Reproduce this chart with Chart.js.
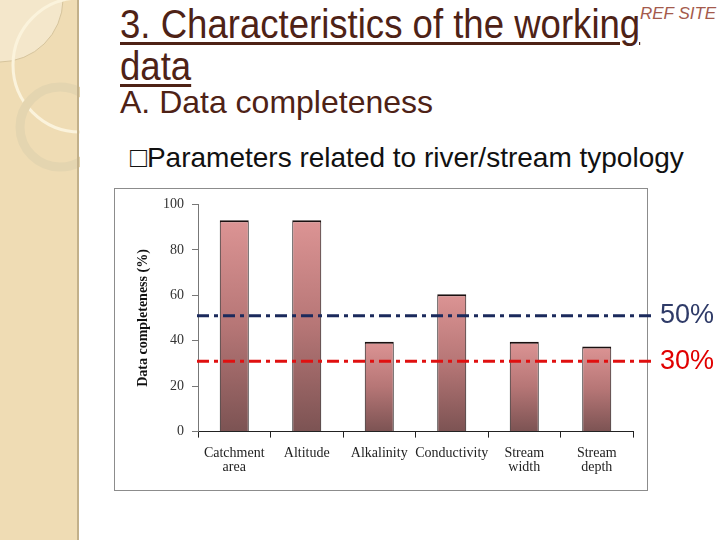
<!DOCTYPE html>
<html>
<head>
<meta charset="utf-8">
<script src="https://cdn.jsdelivr.net/npm/chart.js@4.4.1/dist/chart.umd.min.js"></script>
<style>
  body { margin: 0; background: #fff; }
  #slide { position: relative; width: 720px; height: 540px; overflow: hidden; background: #fff; font-family: "Liberation Sans", Arial, sans-serif; }
  #side { position: absolute; left: 0; top: 0; }
  .t { position: absolute; white-space: nowrap; line-height: normal; }
  .head { font-size: 40px; color: #4e2216; text-decoration: underline; text-decoration-thickness: 3px; text-underline-offset: 4px; transform: scaleX(0.914); transform-origin: left top; }
  #title1 { left: 120px; top: 2px; }
  #title2 { left: 120px; top: 44px; }
  #sub { left: 120px; top: 84px; font-size: 32px; color: #4e2216; }
  #ref { left: 640px; top: 4px; font-size: 17px; font-style: italic; color: #a45a4c; }
  #bullet { left: 130px; top: 142px; font-size: 28px; color: #111; }
  #box { position: absolute; left: 114px; top: 188px; width: 532px; height: 301px; border: 1px solid #8c8c8c; }
  #wrap { position: absolute; left: 114px; top: 188px; width: 606px; height: 307px; }
</style>
</head>
<body>
<div id="slide">
  <svg id="side" width="80" height="540">
    <rect x="0" y="0" width="78" height="540" fill="#efdcb4"/>
    <path d="M0 0 L63 0 A63 63 0 0 1 0 62 Z" fill="#f4e7cb"/>
    <path d="M63 0 A63 63 0 0 1 0 62" fill="none" stroke="#d6c49c" stroke-width="1"/>
    <circle cx="80" cy="65" r="67" fill="none" stroke="#fbf3dc" stroke-width="3"/>
    <circle cx="60" cy="127" r="40" fill="none" stroke="#e4d5b0" stroke-width="9"/>
    <rect x="77" y="0" width="2" height="540" fill="#c2b08a"/>
  </svg>
  <div class="t head" id="title1">3. Characteristics of the working</div>
  <div class="t head" id="title2">data</div>
  <div class="t" id="ref">REF SITE</div>
  <div class="t" id="sub">A. Data completeness</div>
  <div class="t" id="bullet">&#9633;Parameters related to river/stream typology</div>
  <div id="box"></div>
  <div id="wrap"><canvas id="c"></canvas></div>
</div>
<script>
const categories = [["Catchment", "area"], "Altitude", "Alkalinity", "Conductivity", ["Stream", "width"], ["Stream", "depth"]];
const completeness = [93, 93, 39.5, 60.5, 39.5, 37.5];
const thresholdValues = [51, 31];
const thresholdLabels = ["50%", "30%"];
const thresholdColors = ["#1b2a5c", "#e01010"];
const labelColors = ["#2f3b68", "#e00000"];

function barGradient(ctx) {
  const chart = ctx.chart;
  if (!chart.chartArea || !chart.scales.y) return "#b87676";
  const y = chart.scales.y;
  const top = y.getPixelForValue(completeness[ctx.dataIndex]);
  const bottom = y.getPixelForValue(0);
  const g = chart.ctx.createLinearGradient(0, top, 0, bottom);
  g.addColorStop(0, "#dc9494");
  g.addColorStop(0.5, "#b67676");
  g.addColorStop(1, "#7c5353");
  return g;
}

const thresholdLines = {
  id: "thresholdLines",
  afterDatasetsDraw(chart) {
    const ctx = chart.ctx;
    const area = chart.chartArea;
    const y = chart.scales.y;
    ctx.save();
    thresholdValues.forEach((v, i) => {
      const py = y.getPixelForValue(v);
      ctx.strokeStyle = thresholdColors[i];
      ctx.lineWidth = 3;
      ctx.setLineDash([12, 5, 4, 5]);
      ctx.beginPath();
      ctx.moveTo(area.left - 1, py);
      ctx.lineTo(area.right + 22, py);
      ctx.stroke();
      ctx.setLineDash([]);
      ctx.fillStyle = labelColors[i];
      ctx.font = "27px 'Liberation Sans', Arial, sans-serif";
      ctx.textBaseline = "middle";
      ctx.fillText(thresholdLabels[i], area.right + 27, py);
    });
    ctx.restore();
  }
};

new Chart("c", {
  type: "bar",
  plugins: [thresholdLines],
  data: {
    labels: categories,
    datasets: [{
      data: completeness,
      backgroundColor: barGradient,
      borderColor: "#1a1010",
      borderWidth: { top: 2, left: 1, right: 1, bottom: 0 },
      borderSkipped: false,
      categoryPercentage: 1,
      barPercentage: 0.4,
    }],
  },
  options: {
    maintainAspectRatio: false,
    responsive: true,
    animation: false,
    layout: { padding: { left: 0, right: 87, top: 6, bottom: 12 } },
    plugins: {
      legend: { display: false },
      tooltip: { enabled: false },
    },
    scales: {
      x: {
        offset: true,
        grid: { display: true, drawOnChartArea: false, offset: true, tickLength: 6, color: "#222" },
        border: { color: "#222", width: 1 },
        ticks: {
          color: "#222",
          padding: 8,
          maxRotation: 0,
          autoSkip: false,
          font: { family: "'Liberation Serif', 'Times New Roman', serif", size: 14, lineHeight: 1.05 },
        },
      },
      y: {
        min: 0,
        max: 100,
        afterFit(scale) { scale.width = 84; },
        grid: { display: true, drawOnChartArea: false, tickLength: 6, color: "#777" },
        border: { color: "#777", width: 1 },
        ticks: {
          stepSize: 20,
          color: "#333",
          padding: 8,
          font: { family: "'Liberation Serif', 'Times New Roman', serif", size: 14 },
        },
        title: {
          display: true,
          text: "Data completeness (%)",
          color: "#111",
          padding: { top: 21, bottom: 0 },
          font: { family: "'Liberation Serif', 'Times New Roman', serif", size: 14, weight: "bold" },
        },
      },
    },
  },
});
</script>
</body>
</html>
